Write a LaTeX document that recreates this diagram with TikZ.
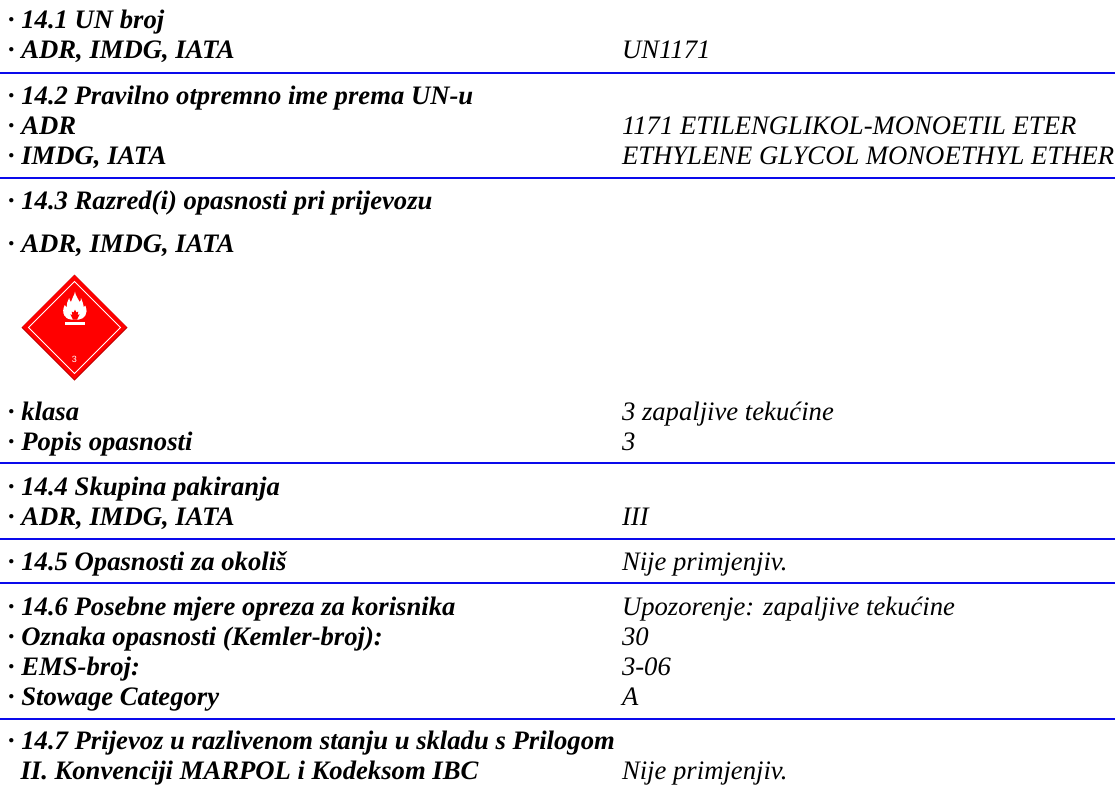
\documentclass[tikz,border=0pt]{standalone}
\usepackage{fontspec}
\setmainfont{Liberation Serif}
\newfontfamily\smallsans{Liberation Sans}
\definecolor{rulecol}{RGB}{10,10,235}
\definecolor{placard}{RGB}{255,0,0}
\tikzset{
  lab/.style={anchor=base west,inner sep=0pt,outer sep=0pt,font=\fontsize{26.67}{30}\selectfont\bfseries\itshape,text=black},
  val/.style={anchor=base west,inner sep=0pt,outer sep=0pt,font=\fontsize{26.67}{30}\selectfont\itshape,text=black},
  rowrule/.style={draw=rulecol,line width=2pt}
}
\begin{document}
\begin{tikzpicture}[x=1pt,y=-1pt]
\useasboundingbox (0,0) rectangle (1115,784);
\fill[white] (0,0) rectangle (1115,784);
% rules
\foreach \y in {72.5,178,463,539,583,719}{\draw[rowrule] (0,\y) -- (1115,\y);}
% left column
\node[lab] (a1) at (8,29) {· 14.1 UN broj};
\node[lab] (a2) at (8,59) {· ADR, IMDG, IATA};
\node[lab] (b1) at (8,104) {· 14.2 Pravilno otpremno ime prema UN-u};
\node[lab] (b2) at (8,134) {· ADR};
\node[lab] (b3) at (8,164) {· IMDG, IATA};
\node[lab] (c1) at (8,209) {· 14.3 Razred(i) opasnosti pri prijevozu};
\node[lab] (c2) at (8,252) {· ADR, IMDG, IATA};
\node[lab] (c3) at (8,420) {· klasa};
\node[lab] (c4) at (8,450.5) {· Popis opasnosti};
\node[lab] (d1) at (8,495) {· 14.4 Skupina pakiranja};
\node[lab] (d2) at (8,525) {· ADR, IMDG, IATA};
\node[lab] (e1) at (8,570) {· 14.5 Opasnosti za okoliš};
\node[lab] (f1) at (8,615) {· 14.6 Posebne mjere opreza za korisnika};
\node[lab] (f2) at (8,645) {· Oznaka opasnosti (Kemler-broj):};
\node[lab] (f3) at (8,675) {· EMS-broj:};
\node[lab] (f4) at (8,705) {· Stowage Category};
\node[lab] (g1) at (8,749) {· 14.7 Prijevoz u razlivenom stanju u skladu s Prilogom};
\node[lab] (g2) at (20.5,779) {II. Konvenciji MARPOL i Kodeksom IBC};
% right column
\node[val] (va) at (622,59) {UN1171};
\node[val] (vb2) at (622,134) {1171 ETILENGLIKOL-MONOETIL ETER};
\node[val] (vb3) at (622,164) {ETHYLENE GLYCOL MONOETHYL ETHER};
\node[val] (vc3) at (622,420) {3 zapaljive tekućine};
\node[val] (vc4) at (622,450.5) {3};
\node[val] (vd) at (622,525) {III};
\node[val] (ve) at (622,570) {Nije primjenjiv.};
\node[val] (vf1) at (622,615) {Upozorenje: zapaljive tekućine};
\node[val] (vf2) at (622,645) {30};
\node[val] (vf3) at (622,675) {3-06};
\node[val] (vf4) at (622,705) {A};
\node[val] (vg) at (622,779) {Nije primjenjiv.};
% placard
\fill[placard!75!black] (74.5,274.5) -- (127.5,327.5) -- (74.5,380.5) -- (21.5,327.5) -- cycle;
\fill[placard] (74.5,275) -- (126.5,327) -- (74.5,379) -- (22.5,327) -- cycle;
\draw[white,line width=1pt] (74.5,281.5) -- (120.5,327.5) -- (74.5,373.5) -- (28.5,327.5) -- cycle;
\fill[white] (75,291.5)
  .. controls (75.5,296) and (78.5,299) .. (79.5,302)
  .. controls (80.5,301.5) and (81,300.5) .. (81,298)
  .. controls (82.5,302) and (83.5,304) .. (83.8,307)
  .. controls (84.6,306.8) and (85,306.5) .. (85.3,305.5)
  .. controls (87,310) and (87,313) .. (85.3,315.5)
  .. controls (83.8,318) and (81.5,319) .. (79,319.5)
  -- (71,319.5)
  .. controls (67.5,319) and (65.5,317.5) .. (64.3,315.5)
  .. controls (62.5,312) and (63,308.5) .. (64.8,305)
  .. controls (65.3,306.5) and (66,307) .. (66.6,307.5)
  .. controls (66.4,304) and (67.5,301.5) .. (69.2,298)
  .. controls (69.5,300) and (70,301) .. (71,302)
  .. controls (71.5,298) and (74.5,296) .. (75,291.5) -- cycle;
\fill[placard] (75,309.5) -- (76.5,312.5) -- (78.3,311.5) -- (77.6,314.8) -- (79.6,314.4) -- (77,319.7) -- (73,319.7) -- (70.4,314.4) -- (72.4,314.8) -- (71.7,311.5) -- (73.5,312.5) -- cycle;
\fill[white] (65,322) rectangle (84.5,324.7);
\node[anchor=base,inner sep=0pt,text=white,font=\smallsans\fontsize{9}{10}\selectfont] (pn) at (74.5,362.5) {3};
\end{tikzpicture}
\end{document}
